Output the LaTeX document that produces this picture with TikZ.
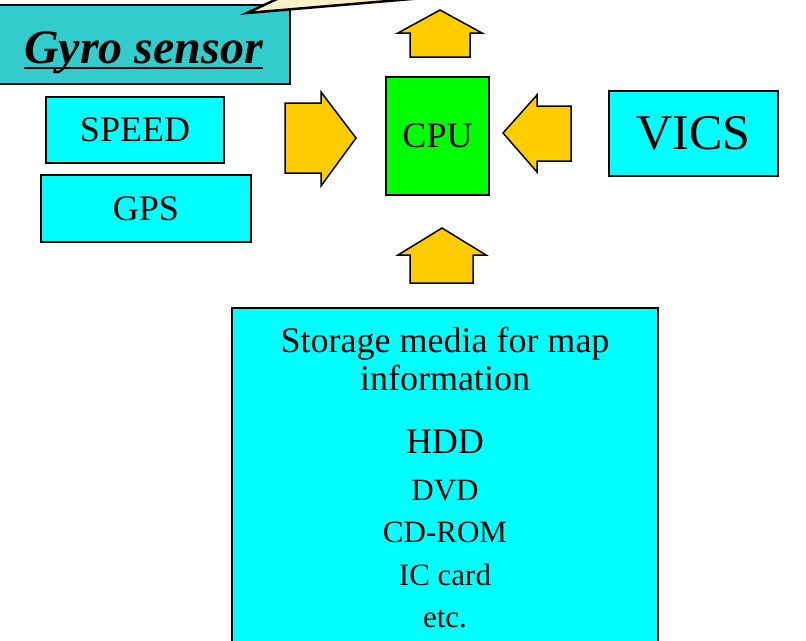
\documentclass[tikz,border=0pt]{standalone}
\usepackage{fontspec}
\setmainfont{Liberation Serif}
\definecolor{boxcyan}{HTML}{00FFFF}
\definecolor{gyroteal}{HTML}{33CCCC}
\definecolor{cpugreen}{HTML}{00FF00}
\definecolor{arrowgold}{HTML}{FFCC00}
\definecolor{calloutbeige}{HTML}{FFF0C8}
\begin{document}
\begin{tikzpicture}[
            x=1pt, y=-1pt,
            every node/.style={inner sep=0pt},
            infobox/.style={draw=black, line width=1.5pt, fill=boxcyan},
            blockarrow/.style={draw=black, line width=1.5pt, fill=arrowgold, line join=miter},
            midtext/.style={font=\fontsize{36}{40}\selectfont},
            smalltext/.style={font=\fontsize{31}{34}\selectfont, anchor=base}
        ]
        \useasboundingbox (0,0) rectangle (806,640);
        \clip (0,0) rectangle (806,640);

        % Gyro sensor label with callout tail
        \node[draw=black, line width=1.5pt, fill=gyroteal, minimum width=300pt, minimum height=79pt] (gyro) at (140,44.5) {};
        \node[anchor=base, font=\fontsize{48}{52}\selectfont\bfseries\itshape] (gyrotext) at (143.5,63) {Gyro sensor};
        \draw[line width=2.5pt] ([yshift=-5pt]gyrotext.base west) -- ([yshift=-5pt]gyrotext.base east);
        \draw[draw=black, line width=2.5pt, fill=calloutbeige, line join=miter] (247,13) -- (307,-15) -- (576,-15) -- cycle;

        % Sensor inputs
        \node[infobox, minimum width=178pt, minimum height=66pt, midtext] (speed) at (135,130) {SPEED};
        \node[infobox, minimum width=210pt, minimum height=67pt, midtext] (gps) at (146,208.5) {GPS};

        % CPU and VICS
        \node[draw=black, line width=1.5pt, fill=cpugreen, minimum width=103pt, minimum height=118pt, midtext] (cpu) at (437.5,136) {CPU};
        \node[infobox, minimum width=169pt, minimum height=85pt, font=\fontsize{50}{54}\selectfont] (vics) at (693.5,133.5) {VICS};

        % Block arrows round the CPU
        \draw[blockarrow] (410,57) -- (410,33) -- (398,33) -- (440,10) -- (482,33) -- (470,33) -- (470,57) -- cycle;
        \draw[blockarrow] (410,283) -- (410,255) -- (398,255) -- (442,228) -- (486,255) -- (473,255) -- (473,283) -- cycle;
        \draw[blockarrow] (285,103) -- (321,103) -- (321,92) -- (356,138) -- (321,186) -- (321,173) -- (285,173) -- cycle;
        \draw[blockarrow] (571,106) -- (537,106) -- (537,95) -- (503,133) -- (537,172) -- (537,161) -- (571,161) -- cycle;

        % Storage media
        \node[infobox, minimum width=426pt, minimum height=337pt] (storage) at (445,476.5) {};
        \node[midtext, anchor=base] (storeline1) at (445,352) {Storage media for map};
        \node[midtext, anchor=base] (storeline2) at (445,390) {information};
        \node[midtext, anchor=base] (hdd) at (445,453) {HDD};
        \node[smalltext] (dvd) at (445,500) {DVD};
        \node[smalltext] (cdrom) at (445,542) {CD-ROM};
        \node[smalltext] (iccard) at (445,585) {IC card};
        \node[smalltext] (etc) at (445,627) {etc.};
        \end{tikzpicture}
\end{document}
